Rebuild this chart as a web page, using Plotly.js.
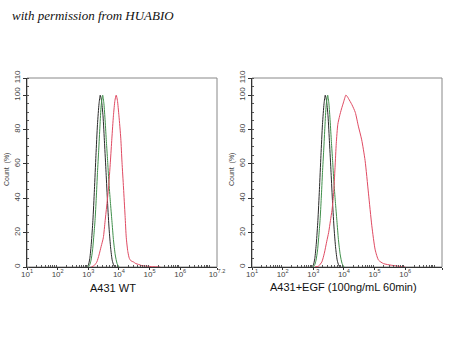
<!DOCTYPE html>
<html>
<head>
<meta charset="utf-8">
<script src="https://cdn.plot.ly/plotly-3.0.1.min.js"></script>
<style>html,body{margin:0;padding:0;background:#fff;}#chart{width:450px;height:360px;}</style>
</head>
<body>
<div id="chart"></div>
<script>
// ---- data (x given as log10 of fluorescence intensity) ----
const panelTitles = ["A431 WT", "A431+EGF (100ng/mL 60min)"];
const xTickExp = [1, 2, 3, 4, 5, 6, 7.2];
const xTickText = ["10<sup>1</sup>", "10<sup>2</sup>", "10<sup>3</sup>", "10<sup>4</sup>", "10<sup>5</sup>", "10<sup>6</sup>", "10<sup>7.2</sup>"];
const yTickVals = [0, 20, 40, 60, 80, 100, 110];

// black (isotype / blank control)
const blackExp = [2.90, 2.96, 3.00, 3.05, 3.10, 3.15, 3.20, 3.25, 3.30, 3.35, 3.39, 3.43, 3.48, 3.53, 3.58, 3.63, 3.68, 3.73, 3.78, 3.83, 3.88];
const blackY   = [0, 0.3, 1, 5, 14, 27, 45, 65, 83, 95, 100, 97, 88, 72, 55, 37, 22, 11, 4, 1, 0];
// green (control)
const greenExp = [2.98, 3.04, 3.09, 3.14, 3.18, 3.22, 3.26, 3.30, 3.34, 3.38, 3.42, 3.47, 3.51, 3.55, 3.59, 3.63, 3.67, 3.72, 3.77, 3.82, 3.88, 3.94, 4.00];
const greenY   = [0, 1, 4, 10, 18, 27, 40, 55, 68, 82, 94, 100, 95, 85, 73, 62, 50, 38, 27, 16, 7, 2, 0];
// red, A431 WT
const redWTExp = [3.10, 3.20, 3.28, 3.35, 3.42, 3.49, 3.55, 3.61, 3.66, 3.72, 3.77, 3.82, 3.87, 3.91, 3.95, 4.00, 4.06, 4.10, 4.15, 4.20, 4.24, 4.29, 4.34, 4.40, 4.47, 4.55, 4.64, 4.75, 4.91, 5.10, 5.35];
const redWTY   = [0, 1, 3, 7, 12, 17, 27, 37, 46, 61, 75, 88, 97, 100, 97, 88, 75, 61, 46, 30, 17, 9, 5, 3.5, 3, 2, 1.5, 0.8, 0.5, 0.2, 0];
// red, A431 + EGF
const redEGFExp = [3.05, 3.17, 3.28, 3.36, 3.44, 3.50, 3.56, 3.61, 3.66, 3.71, 3.75, 3.80, 3.86, 3.92, 3.98, 4.03, 4.06, 4.10, 4.15, 4.26, 4.37, 4.47, 4.58, 4.69, 4.80, 4.91, 5.02, 5.13, 5.29, 5.56, 6.00];
const redEGFY   = [0, 0.5, 3, 8, 15, 20, 27, 33, 42, 58, 72, 83, 88, 92, 95.5, 98.5, 100, 99.5, 98, 94.5, 90, 82, 74, 62, 43, 24, 10, 4, 2, 1, 0];

// ---- build ----
const toLin = a => a.map(e => Math.pow(10, e));
const colBlack = '#2a2a2a', colGreen = '#3f8f4a', colRed = '#e04a62';
function tr(xe, y, color, xa, ya) {
  return {x: toLin(xe), y: y, type: 'scatter', mode: 'lines', line: {color: color, width: 1, shape: 'spline', smoothing: 0.6},
          xaxis: xa, yaxis: ya, hoverinfo: 'skip', showlegend: false};
}
const data = [
  tr(blackExp, blackY, colBlack, 'x', 'y'),
  tr(greenExp, greenY, colGreen, 'x', 'y'),
  tr(redWTExp, redWTY, colRed, 'x', 'y'),
  tr(blackExp, blackY, colBlack, 'x2', 'y2'),
  tr(greenExp, greenY, colGreen, 'x2', 'y2'),
  tr(redEGFExp, redEGFY, colRed, 'x2', 'y2')
];

const minorX = [];
for (let d = 1; d <= 7; d++) for (let m = 2; m <= 9; m++) { const v = m * Math.pow(10, d); if (Math.log10(v) < 7.2) minorX.push(v); }

const tickFont = {family: 'Liberation Sans, Arial, sans-serif', size: 8, color: '#444'};
function xax(domain, anchor) {
  return {domain: domain, anchor: anchor, type: 'log', range: [1, 7.2], tickmode: 'array',
    tickvals: toLin(xTickExp), ticktext: xTickText, ticks: 'outside', ticklen: 2, tickcolor: '#333', tickwidth: 1,
    ticklabelstandoff: -3,
    showline: true, linecolor: '#333', linewidth: 1, showgrid: false, zeroline: false, tickfont: tickFont,
    minor: {tickmode: 'array', tickvals: minorX, ticks: 'inside', ticklen: 2, tickcolor: '#555', showgrid: false}};
}
function yax(anchor) {
  return {domain: [0.2583, 0.7833], anchor: anchor, range: [0, 110], tickmode: 'array', tickvals: yTickVals,
    ticks: 'outside', ticklen: 3, tickcolor: '#333', tickangle: -90, showline: true, linecolor: '#333', linewidth: 1,
    showgrid: false, zeroline: false, tickfont: tickFont,
    minor: {dtick: 5, ticks: 'inside', ticklen: 2, tickcolor: '#555', showgrid: false}};
}
const dom1 = [27/450, 217/450], dom2 = [252/450, 442/450];
const shapes = [dom1, dom2].map(d => ({type: 'rect', xref: 'paper', yref: 'paper', x0: d[0], x1: d[1], y0: 0.2583, y1: 0.7833,
  line: {color: '#888', width: 1}, fillcolor: 'rgba(0,0,0,0)', layer: 'below'}));

const annots = [
  {text: '<i>with permission from HUABIO</i>', xref: 'paper', yref: 'paper', x: 10/450, y: (360-16)/360, xanchor: 'left', yanchor: 'middle',
   showarrow: false, font: {family: 'Liberation Serif, serif', size: 13, color: '#111'}},
  {text: panelTitles[0], xref: 'paper', yref: 'paper', x: 113/450, y: (360-288)/360, xanchor: 'center', yanchor: 'middle',
   showarrow: false, font: {family: 'Liberation Sans, Arial, sans-serif', size: 11, color: '#111'}},
  {text: panelTitles[1], xref: 'paper', yref: 'paper', x: 343/450, y: (360-287)/360, xanchor: 'center', yanchor: 'middle',
   showarrow: false, font: {family: 'Liberation Sans, Arial, sans-serif', size: 11, color: '#111'}},
  {text: 'Count  (%)', xref: 'paper', yref: 'paper', x: 7/450, y: (360-170)/360, textangle: -90, xanchor: 'center', yanchor: 'middle',
   showarrow: false, font: {family: 'Liberation Sans, Arial, sans-serif', size: 7, color: '#444'}},
  {text: 'Count  (%)', xref: 'paper', yref: 'paper', x: 232/450, y: (360-170)/360, textangle: -90, xanchor: 'center', yanchor: 'middle',
   showarrow: false, font: {family: 'Liberation Sans, Arial, sans-serif', size: 7, color: '#444'}}
];

const layout = {
  width: 450, height: 360, margin: {l: 0, r: 0, t: 0, b: 0}, paper_bgcolor: '#fff', plot_bgcolor: '#fff',
  showlegend: false,
  xaxis: xax(dom1, 'y'), yaxis: yax('x'),
  xaxis2: xax(dom2, 'y2'), yaxis2: yax('x2'),
  shapes: shapes, annotations: annots
};
Plotly.newPlot('chart', data, layout, {staticPlot: true, displayModeBar: false});
</script>
</body>
</html>
